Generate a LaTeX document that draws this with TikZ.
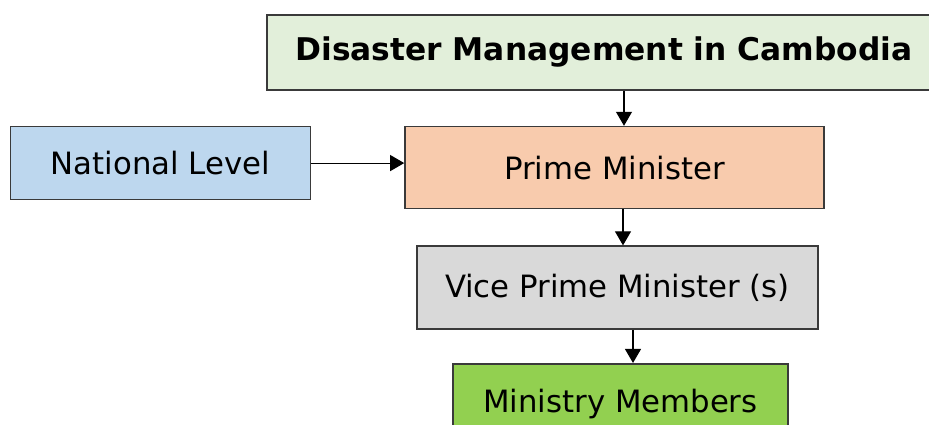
\documentclass[tikz,border=0pt]{standalone}
\usepackage{fontspec}
\setmainfont{DejaVu Sans}
\usepackage{xcolor}
\usepackage{tikz}
\usetikzlibrary{arrows.meta, positioning, calc}
\definecolor{titlegreen}{HTML}{E2EFDA}
\definecolor{levelblue}{HTML}{BDD7EE}
\definecolor{primepeach}{HTML}{F8CBAD}
\definecolor{vicegray}{HTML}{D9D9D9}
\definecolor{membergreen}{HTML}{92D050}
\definecolor{edgegray}{HTML}{3A3A3A}

\begin{document}
\begin{tikzpicture}[
  box/.style={rectangle, draw=edgegray, line width=0.9pt, fill=#1, inner sep=0pt, font=\fontsize{17.5}{20}\selectfont},
  arrow/.style={-{Triangle[length=0.28cm, width=0.32cm]}, line width=0.6pt, color=black}
]
  \useasboundingbox (0,0) rectangle (18.58,-8.5);
  \clip (0,0) rectangle (18.58,-8.5);

  % Title
  \node[box=titlegreen, minimum width=13.48cm, minimum height=1.5cm, font=\fontsize{17.8}{20}\selectfont\bfseries] (title) at (12.08,-1.05) {Disaster Management in Cambodia};

  % Prime Minister and National Level
  \node[box=primepeach, minimum width=8.38cm, minimum height=1.64cm, below=0.7cm of title, xshift=0.21cm] (pm) {Prime Minister};
  \node[box=levelblue, minimum width=6cm, minimum height=1.46cm, left=1.86cm of pm, yshift=0.09cm] (national) {National Level};

  % Vice Prime Minister
  \node[box=vicegray, minimum width=8.02cm, minimum height=1.66cm, below=0.72cm of pm, xshift=0.06cm] (vpm) {Vice Prime Minister (s)};

  % Ministry Members
  \node[box=membergreen, minimum width=6.7cm, minimum height=1.6cm, below=0.66cm of vpm, xshift=0.06cm] (members) {Ministry Members};

  % Arrows
  \draw[arrow] ([xshift=0.4cm]title.south) -- ([xshift=0.4cm]title.south |- pm.north);
  \draw[arrow] (national.east) -- (national.east -| pm.west);
  \draw[arrow] ([xshift=0.17cm]pm.south) -- ([xshift=0.17cm]pm.south |- vpm.north);
  \draw[arrow] ([xshift=0.31cm]vpm.south) -- ([xshift=0.31cm]vpm.south |- members.north);
\end{tikzpicture}
\end{document}
